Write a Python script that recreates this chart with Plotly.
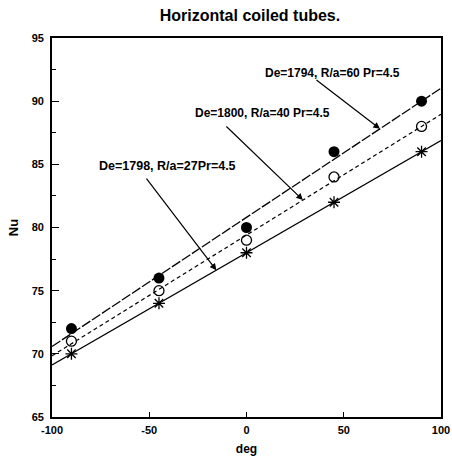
import numpy as np
import plotly.graph_objects as go

deg = [-90, -45, 0, 45, 90]
nu_ra60 = [72, 76, 80, 86, 90]   # filled circles, De=1794, R/a=60
nu_ra40 = [71, 75, 79, 84, 88]   # open circles, De=1800, R/a=40
nu_ra27 = [70, 74, 78, 82, 86]   # stars, De=1798, R/a=27

labels = ["De=1794, R/a=60 Pr=4.5", "De=1800, R/a=40 Pr=4.5", "De=1798, R/a=27Pr=4.5"]
x_ticks = [-100, -50, 0, 50, 100]
x_ticktext = ["-100", "-50", "0", "50", "100"]
x_range = [-100, 100]
y_range = [65, 95]

FONT = "Liberation Sans"
fig = go.Figure()

series = [
    (nu_ra60, dict(symbol="circle", size=11, color="black"), dict(color="black", width=1.3, dash="10px,2px")),
    (nu_ra40, dict(symbol="circle-open", size=10, color="black", line=dict(width=1.3)), dict(color="black", width=1.2, dash="4px,3px")),
    (nu_ra27, dict(symbol="asterisk-open", size=10, color="black", line=dict(width=1.3)), dict(color="black", width=1.3, dash="solid")),
]
fits = []
xl = np.array(x_range, dtype=float)
for ys, mk, ln in series:
    k, b = np.polyfit(deg, ys, 1)
    fits.append((k, b))
    fig.add_trace(go.Scatter(x=xl, y=k * xl + b, mode="lines", line=ln, showlegend=False, hoverinfo="skip"))
    fig.add_trace(go.Scatter(x=deg, y=ys, mode="markers", marker=mk, showlegend=False))

# annotation texts
text_pos = [(44.2, 92.2, "center"), (44.0, 89.1, "right"), (-40.5, 84.9, "center")]
text_size = [12, 12, 12.5]
for (tx, ty, xa), lab, fs in zip(text_pos, labels, text_size):
    fig.add_annotation(x=tx, y=ty, text=lab, showarrow=False, xanchor=xa,
                       font=dict(family=FONT, size=fs, color="black", weight="bold"))

# arrows pointing onto the fitted lines
arrow_x = [68.6, 29.0, -15.5]
arrow_off = [(-65, -50), (-78, -75), (-71, -93)]
for (k, b), axv, (ox, oy) in zip(fits, arrow_x, arrow_off):
    fig.add_annotation(x=axv, y=k * axv + b, ax=ox, ay=oy, text="", showarrow=True,
                       arrowhead=2, arrowsize=1.1, arrowwidth=1.2, arrowcolor="black")

tickfont = dict(family=FONT, size=11, color="black", weight="bold")
fig.update_layout(
    width=452, height=459,
    margin=dict(l=52, r=11, t=38, b=42, autoexpand=False),
    paper_bgcolor="white", plot_bgcolor="white",
    title=dict(text="Horizontal coiled tubes.", x=0.553, xanchor="center", y=0.967, yanchor="middle",
               font=dict(family=FONT, size=16, color="black", weight="bold")),
    xaxis=dict(range=x_range, tickvals=x_ticks, ticktext=x_ticktext, ticks="inside", ticklen=5,
               tickwidth=1.2, tickcolor="black", showgrid=False, zeroline=False,
               showline=True, linecolor="black", linewidth=1.6, mirror=True, automargin=False,
               tickfont=tickfont, ticklabelstandoff=2,
               title=dict(text="deg", standoff=10, font=dict(family=FONT, size=12, color="black", weight="bold"))),
    yaxis=dict(range=y_range, dtick=5, ticks="inside", ticklen=7, tickwidth=1.2, tickcolor="black",
               minor=dict(dtick=2.5, ticks="inside", ticklen=4, tickcolor="black", tickwidth=1),
               showgrid=False, zeroline=False, showline=True, linecolor="black", linewidth=1.6,
               mirror=True, automargin=False, tickfont=tickfont, ticklabelstandoff=4,
               title=dict(text="Nu", standoff=10, font=dict(family=FONT, size=13, color="black", weight="bold"))),
)
fig.write_html("out.html")
